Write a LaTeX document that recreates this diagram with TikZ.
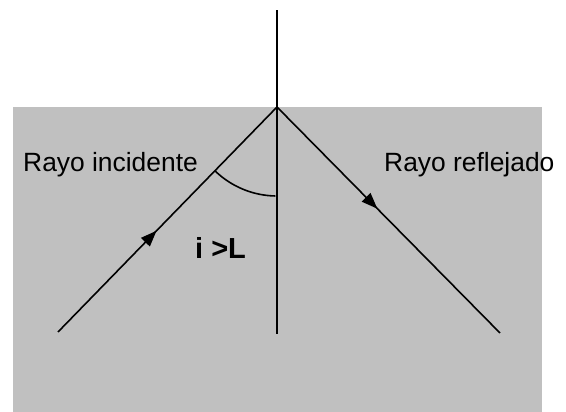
\documentclass[tikz,border=0pt]{standalone}
\usepackage{fontspec}
\setmainfont{Liberation Sans}
\usetikzlibrary{arrows.meta,decorations.markings}
\definecolor{panelgray}{RGB}{192,192,192}
\tikzset{
  ray/.style={line width=1.6pt, draw=black},
  midarrow/.style={postaction={decorate}, decoration={markings,
      mark=at position #1 with {\arrow{Triangle[length=16pt,width=12pt]}}}},
  lbl/.style={anchor=base west, inner sep=0pt, font=\fontsize{26.4}{31}\selectfont},
  blbl/.style={anchor=base west, inner sep=0pt, font=\fontsize{29}{34}\selectfont\bfseries}
}
\begin{document}
\begin{tikzpicture}[x=1pt,y=1pt]
  \useasboundingbox (0,0) rectangle (566,412);
  \fill[panelgray] (12.5,0) rectangle (542,305);
  \coordinate (O) at (277,305);
  \coordinate (ntop) at (277,401.5);
  \coordinate (nbot) at (277,78);
  \coordinate (inc) at (58,80);
  \coordinate (ref) at (500,79);
  \draw[ray] (ntop) -- (nbot);
  \draw[ray, midarrow=0.45] (inc) -- (O);
  \draw[ray, midarrow=0.45] (O) -- (ref);
  \draw[ray] ([shift={(225.8:89)}]O) arc[start angle=225.8, end angle=269, radius=89];
  \node[lbl] (tinc) at (23,240) {Rayo incidente};
  \node[lbl] (tref) at (384,240) {Rayo reflejado};
  \node[blbl] (tang) at (195,153) {i >L};
\end{tikzpicture}
\end{document}
